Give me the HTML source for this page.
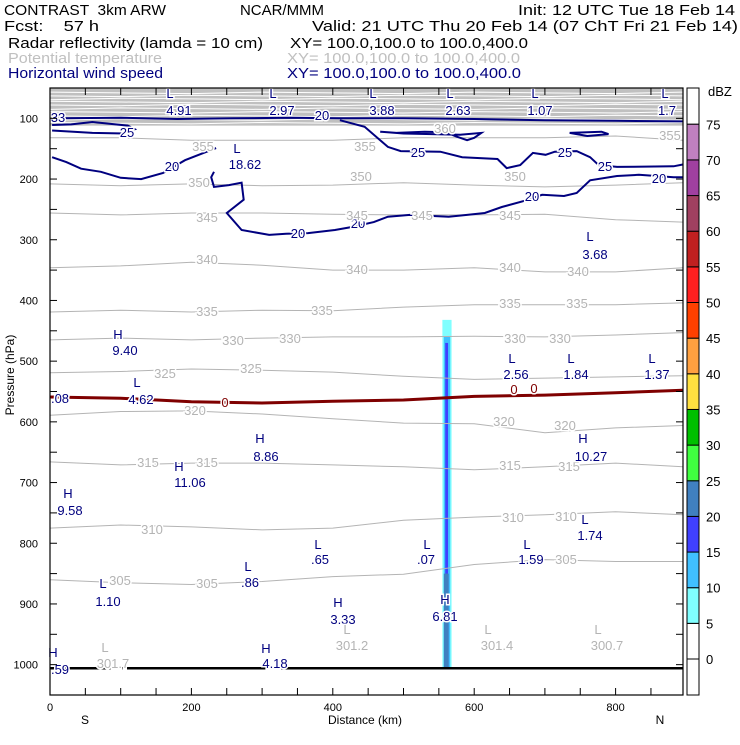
<!DOCTYPE html>
<html><head><meta charset="utf-8"><style>
body{margin:0;background:#fff;width:740px;height:740px;overflow:hidden}
svg{font-family:"Liberation Sans",sans-serif}
</style></head><body>
<svg id="chart" width="740" height="740" viewBox="0 0 740 740" xmlns="http://www.w3.org/2000/svg">
<g font-size="15" lengthAdjust="spacingAndGlyphs">
<text x="4" y="15" textLength="162" lengthAdjust="spacingAndGlyphs" xml:space="preserve">CONTRAST  3km ARW</text>
<text x="240" y="15" textLength="84" lengthAdjust="spacingAndGlyphs">NCAR/MMM</text>
<text x="518" y="15" textLength="217" lengthAdjust="spacingAndGlyphs">Init: 12 UTC Tue 18 Feb 14</text>
<text x="4" y="31" textLength="95" lengthAdjust="spacingAndGlyphs" xml:space="preserve">Fcst:    57 h</text>
<text x="312" y="31" textLength="426" lengthAdjust="spacingAndGlyphs">Valid: 21 UTC Thu 20 Feb 14 (07 ChT Fri 21 Feb 14)</text>
<text x="8" y="48" textLength="255" lengthAdjust="spacingAndGlyphs">Radar reflectivity (lamda = 10 cm)</text>
<text x="290" y="48" textLength="238" lengthAdjust="spacingAndGlyphs">XY= 100.0,100.0 to 100.0,400.0</text>
<text x="8" y="63" textLength="154" lengthAdjust="spacingAndGlyphs" fill="#c0c0c0">Potential temperature</text>
<text x="287" y="63" textLength="233" lengthAdjust="spacingAndGlyphs" fill="#c0c0c0">XY= 100.0,100.0 to 100.0,400.0</text>
<text x="8" y="78" textLength="155" lengthAdjust="spacingAndGlyphs" fill="#00007f">Horizontal wind speed</text>
<text x="287" y="78" textLength="234" lengthAdjust="spacingAndGlyphs" fill="#00007f">XY= 100.0,100.0 to 100.0,400.0</text>
</g>
<g id="plot"></g>
<rect x="50" y="88" width="633" height="607" fill="none" stroke="#000" stroke-width="1.2"/>
<g id="axes" font-size="11"></g>
<g id="cbar" font-size="13"></g>
<text x="14" y="375" transform="rotate(-90 14 375)" text-anchor="middle" font-size="12">Pressure (hPa)</text>
<text x="365" y="724" text-anchor="middle" font-size="12">Distance (km)</text>
<text x="85" y="724" text-anchor="middle" font-size="12">S</text>
<text x="660" y="724" text-anchor="middle" font-size="12">N</text>
</svg>
<script>
const NS="http://www.w3.org/2000/svg";
const thetaKm=[0,100,200,300,400,500,600,700,800,895];
const thetaLevels=[305,310,315,320,325,330,335,340,345,350,355];
const thetaP=[
[860,865,868,863,855,851,835,827,830,830],
[775,770,773,778,775,762,757,753,748,753],
[666,671,668,668,671,674,679,674,668,674],
[589,583,582,587,595,602,603,618,610,606],
[519,517,513,515,518,525,530,528,526,524],
[465,462,465,462,460,460,459,460,457,453],
[419,416,419,416,417,411,407,407,407,404],
[346,343,337,342,350,350,346,353,353,346],
[256,259,256,256,258,259,259,258,267,271],
[208,211,208,211,210,206,210,213,210,206],
[132,132,136,136,136,132,132,132,129,136]];
const upperP=[58,63,68,73,78,84,90,96,102,108];
const windKm=[
[3,23,44,72,100,129,160,191,235],
[232,228,232,253,271,274,250,271,310,334,365,403,427,458,478,509,564,590,615,639,677,696,727,745,764,802,833,882,895],
[410,445,478,496,552,583,633,646,665,683,701,714,745,764,776,802,882,895],
[15,100,180,260,340,410,500,600,700,800,895],
[3,30,60,110,120,105,60,3],
[467,490,530,560,575,590,600,610,580,540,500,467],
[735,780,790,760,735]];
const windP=[
[164,172,183,188,198,200,190,169,149],
[188,197,213,210,206,234,256,284,292,290,289,284,279,271,262,259,262,259,256,246,234,226,228,223,202,195,193,197,197],
[103,114,147,154,155,164,167,182,177,157,160,155,154,164,177,180,179,176],
[100,99,101,100,99,100,100,101,103,104,105],
[111,110,106,112,118,125,124,120],
[122,124,122,123,130,136,132,124,127,126,125,122],
[124,122,126,129,124]];
const frzKm=[0,100,200,300,400,500,600,700,800,895];
const frzP=[559,561,567,569,566,564,558,556,552,548];
const radarDbz=[7,12,17,22];
const radarKm=[[555,568],[557,566],[559,563],[557,564]];
const radarP=[[432,1006],[460,1006],[470,1000],[850,1006]];
const cbarLevels=[0,5,10,15,20,25,30,35,40,45,50,55,60,65,70,75];
const cbarColors=["#ffffff","#80ffff","#40c0ff","#4040ff","#4080c0","#40ff40","#00c000","#ffe040","#ffa040","#ff4000","#ff2020","#c02020","#a04060","#a040a0","#c080c0","#ffffff"];
const xTicks=[0,200,400,600,800];
const yTicks=[100,200,300,400,500,600,700,800,900,1000];

const X=k=>50+k*0.707, Y=p=>88+(p-50)*0.607;
const plot=document.getElementById('plot');
function mk(t,a,par){const e=document.createElementNS(NS,t);for(const k in a)e.setAttribute(k,a[k]);(par||plot).appendChild(e);return e;}
function pts(ks,ps){return ks.map((k,i)=>X(k).toFixed(1)+','+Y(ps[i]).toFixed(1)).join(' ');}

const band=mk('rect',{x:50,y:88,width:633,height:Y(112)-88,fill:'#c0c0c0'});


upperP.forEach((p,i)=>{
 const l=mk('polyline',{points:pts(thetaKm,thetaKm.map((k,j)=>p+((i+j)%3-1)*1.2)),fill:'none',stroke:'#fff','stroke-width':1});
 
 
});
radarDbz.forEach((d,i)=>{
 const c=cbarColors[Math.floor(d/5)];
 const r=mk('rect',{x:X(radarKm[i][0]),y:Y(radarP[i][0]),width:X(radarKm[i][1])-X(radarKm[i][0]),height:Y(radarP[i][1])-Y(radarP[i][0]),fill:c});
 
 
});
thetaLevels.forEach((t,i)=>{
 const l=mk('polyline',{points:pts(thetaKm,thetaP[i]),fill:'none',stroke:'#b4b4b4','stroke-width':1});
 
 
});
const fz=mk('polyline',{points:pts(frzKm,frzP),fill:'none',stroke:'#7f0000','stroke-width':3});


windKm.forEach((ks,i)=>{
 const l=mk('polyline',{points:pts(ks,windP[i]),fill:'none',stroke:'#00007f','stroke-width':2});
 
 
});
const g=mk('line',{x1:50,x2:683,y1:Y(1006),y2:Y(1006),stroke:'#000','stroke-width':2.5});



const labs=[
["33",58,122,"#00007f"],["25",127,137,"#00007f"],["20",172,171,"#00007f"],["20",298,238,"#00007f"],["20",358,228,"#00007f"],["20",532,201,"#00007f"],["20",659,183,"#00007f"],["25",418,157,"#00007f"],["25",565,157,"#00007f"],["25",605,171,"#00007f"],["20",322,120,"#00007f"],
["355",203,151,"#b4b4b4"],["355",365,151,"#b4b4b4"],["360",445,133,"#b4b4b4"],["355",670,140,"#b4b4b4"],["350",199,187,"#b4b4b4"],["350",361,181,"#b4b4b4"],["350",515,181,"#b4b4b4"],["345",207,222,"#b4b4b4"],["345",357,220,"#b4b4b4"],["345",422,220,"#b4b4b4"],["345",510,220,"#b4b4b4"],["340",207,264,"#b4b4b4"],["340",357,274,"#b4b4b4"],["340",510,272,"#b4b4b4"],["340",578,276,"#b4b4b4"],["335",207,316,"#b4b4b4"],["335",322,315,"#b4b4b4"],["335",510,308,"#b4b4b4"],["335",577,308,"#b4b4b4"],["330",233,345,"#b4b4b4"],["330",290,343,"#b4b4b4"],["330",515,343,"#b4b4b4"],["330",560,343,"#b4b4b4"],["325",165,378,"#b4b4b4"],["325",251,373,"#b4b4b4"],["320",195,415,"#b4b4b4"],["320",504,426,"#b4b4b4"],["320",565,430,"#b4b4b4"],["315",148,467,"#b4b4b4"],["315",207,467,"#b4b4b4"],["315",510,470,"#b4b4b4"],["315",569,471,"#b4b4b4"],["310",152,534,"#b4b4b4"],["310",513,522,"#b4b4b4"],["310",566,521,"#b4b4b4"],["305",120,585,"#b4b4b4"],["305",207,588,"#b4b4b4"],["305",566,564,"#b4b4b4"],
["0",225,407,"#7f0000"],["0",514,394,"#7f0000"],["0",534,393,"#7f0000"],
["L",170,98,"#00007f"],["4.91",179,115,"#00007f"],["L",273,98,"#00007f"],["2.97",282,115,"#00007f"],["L",373,98,"#00007f"],["3.88",382,115,"#00007f"],["L",450,98,"#00007f"],["2.63",458,115,"#00007f"],["L",535,98,"#00007f"],["1.07",540,115,"#00007f"],["L",665,98,"#00007f"],["1.7",667,115,"#00007f"],
["L",237,153,"#00007f"],["18.62",245,169,"#00007f"],["L",590,241,"#00007f"],["3.68",595,259,"#00007f"],
["H",118,339,"#00007f"],["9.40",125,355,"#00007f"],["L",137,387,"#00007f"],["4.62",141,404,"#00007f"],[".08",60,403,"#00007f"],
["L",512,363,"#00007f"],["2.56",516,379,"#00007f"],["L",571,363,"#00007f"],["1.84",576,379,"#00007f"],["L",652,363,"#00007f"],["1.37",657,379,"#00007f"],
["H",260,443,"#00007f"],["8.86",266,461,"#00007f"],["H",583,443,"#00007f"],["10.27",591,461,"#00007f"],["H",179,471,"#00007f"],["11.06",190,487,"#00007f"],["H",68,498,"#00007f"],["9.58",70,515,"#00007f"],
["L",585,524,"#00007f"],["1.74",590,540,"#00007f"],["L",318,549,"#00007f"],[".65",320,564,"#00007f"],["L",427,549,"#00007f"],[".07",426,564,"#00007f"],["L",527,549,"#00007f"],["1.59",531,564,"#00007f"],
["L",248,571,"#00007f"],[".86",250,587,"#00007f"],["L",103,588,"#00007f"],["1.10",108,606,"#00007f"],["H",338,607,"#00007f"],["3.33",343,624,"#00007f"],["H",445,604,"#00007f"],["6.81",445,621,"#00007f"],
["H",266,653,"#00007f"],["4.18",275,668,"#00007f"],["H",53,657,"#00007f"],[".59",60,674,"#00007f"],
["L",105,652,"#b4b4b4"],["301.7",113,668,"#b4b4b4"],["L",347,634,"#b4b4b4"],["301.2",352,650,"#b4b4b4"],["L",488,634,"#b4b4b4"],["301.4",497,650,"#b4b4b4"],["L",598,634,"#b4b4b4"],["300.7",607,650,"#b4b4b4"]];
labs.forEach(l=>{
 const t=mk('text',{x:l[1],y:l[2],'text-anchor':'middle','font-size':13,fill:l[3],stroke:'#fff','stroke-width':3,'paint-order':'stroke'});
 t.textContent=l[0];
 
 
});

const ax=document.getElementById('axes');
for(let k=0;k<=895;k+=50){
 [88,695].forEach(y0=>{mk('line',{x1:X(k),x2:X(k),y1:y0,y2:y0+(y0===88?7:-7),stroke:'#000'},ax);});
}
for(let p=100;p<=1050;p+=50){
 mk('line',{x1:50,x2:57,y1:Y(p),y2:Y(p),stroke:'#000'},ax);
 mk('line',{x1:683,x2:676,y1:Y(p),y2:Y(p),stroke:'#000'},ax);
}
xTicks.forEach(k=>{const t=mk('text',{x:X(k),y:711,'text-anchor':'middle'},ax);t.textContent=k;
 
 });
yTicks.forEach(p=>{const t=mk('text',{x:38,y:Y(p)+4,'text-anchor':'end'},ax);t.textContent=p;
 
 });

const cb=document.getElementById('cbar');
const CB=v=>659-v*7.13;
mk('rect',{x:687,y:88,width:12,height:CB(75)-88,fill:'#fff',stroke:'#000'},cb);
mk('rect',{x:687,y:CB(0),width:12,height:695-CB(0),fill:'#fff',stroke:'#000'},cb);
for(let i=0;i<cbarLevels.length-1;i++){
 const r=mk('rect',{x:687,y:CB(cbarLevels[i+1]),width:12,height:CB(cbarLevels[i])-CB(cbarLevels[i+1]),fill:cbarColors[i],stroke:'#000'},cb);
 
 
}
cbarLevels.forEach(v=>{const t=mk('text',{x:706,y:CB(v)+5},cb);t.textContent=v;
 
 });
const u=mk('text',{x:708,y:96},cb);u.textContent='dBZ';


</script>
</body></html>
